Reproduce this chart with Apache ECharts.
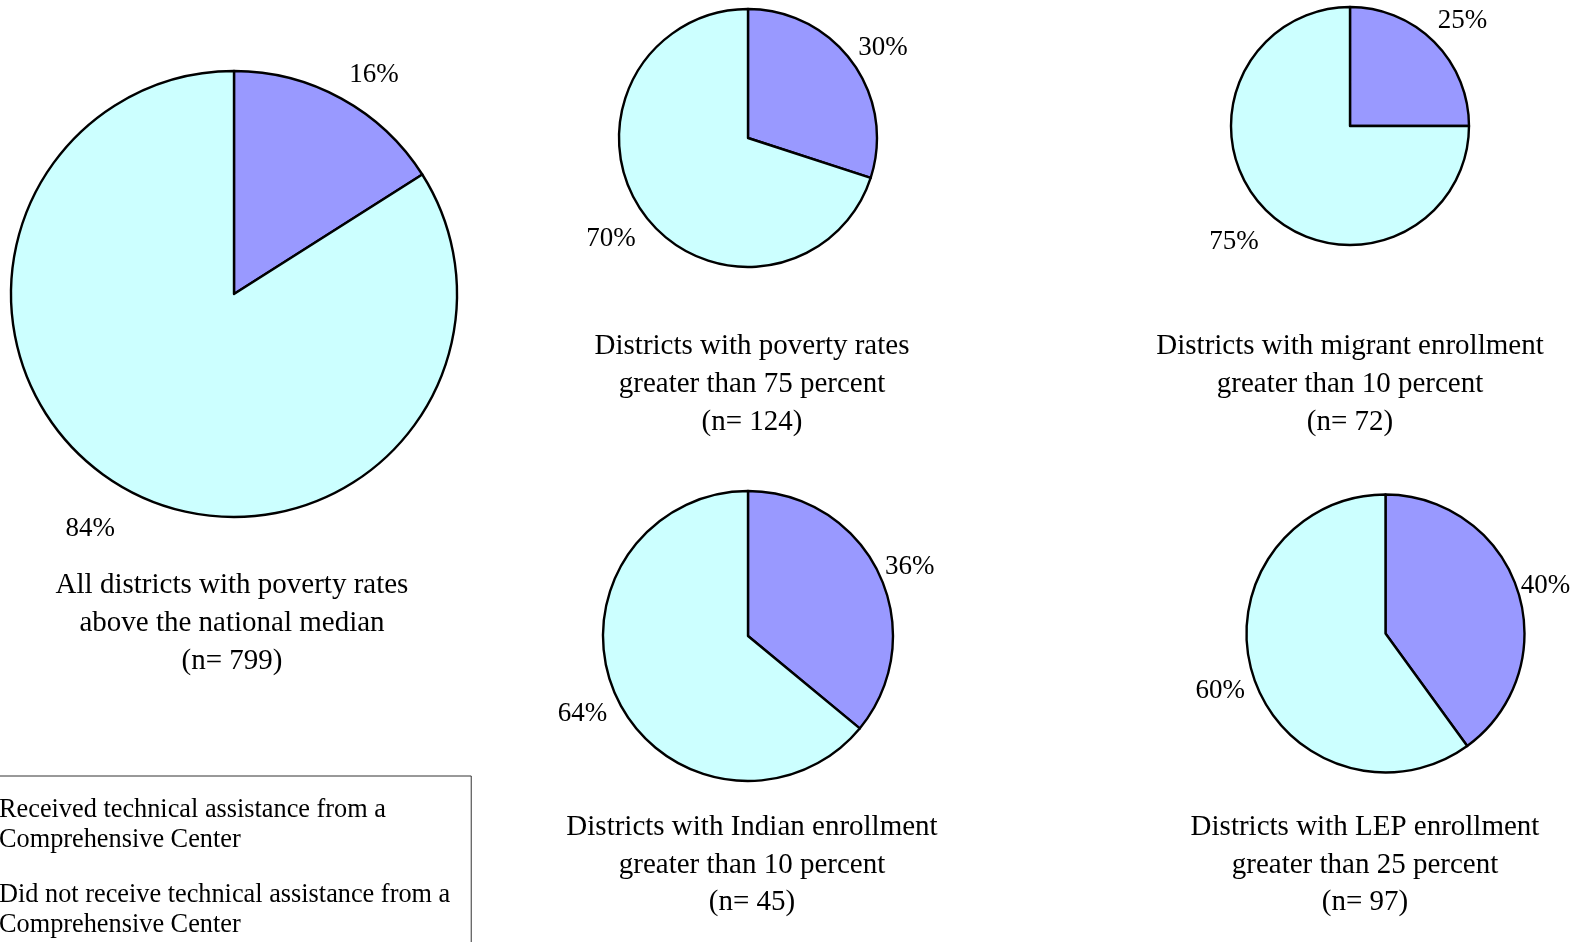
<!DOCTYPE html>
<html>
<head>
<meta charset="utf-8">
<script src="https://cdn.jsdelivr.net/npm/echarts@6/dist/echarts.min.js"></script>
<style>
html,body{margin:0;padding:0;background:#fff;}
#chart{width:1578px;height:942px;}
</style>
</head>
<body>
<div id="chart"></div>
<script>
// ---- data ----
const categories = [
  'Received technical assistance from a\nComprehensive Center',
  'Did not receive technical assistance from a\nComprehensive Center'
];
const groupTitles = [
  'All districts with poverty rates\nabove the national median',
  'Districts with poverty rates\ngreater than 75 percent',
  'Districts with migrant enrollment\ngreater than 10 percent',
  'Districts with Indian enrollment\ngreater than 10 percent',
  'Districts with LEP enrollment\ngreater than 25 percent'
];
const sampleSizes = [799, 124, 72, 45, 97];
const receivedPct = [16, 30, 25, 36, 40];
const notReceivedPct = [84, 70, 75, 64, 60];

// ---- layout (positions/sizes) ----
// labA/labB: label distance beyond the rim; rotA/rotB: small angular nudge (deg) of the label ring
const pieLayout = [
  {cx: 234, cy: 294, r: 223, labA: 34, labB: 49, rotA: 3.8, rotB: 2.7, tx: 232, ty: 567},
  {cx: 748, cy: 138, r: 129, labA: 30, labB: 38, rotA: 2.4, rotB: -0.3, tx: 752, ty: 328},
  {cx: 1350, cy: 126, r: 119, labA: 32, labB: 42, rotA: 1.9, rotB: 0, tx: 1350, ty: 328},
  {cx: 748, cy: 636, r: 145, labA: 28, labB: 35, rotA: 2.0, rotB: 0, tx: 752, ty: 808.5},
  {cx: 1385.5, cy: 633.5, r: 139, labA: 25, labB: 33, rotA: 1.4, rotB: -1.3, tx: 1365, ty: 808.5}
];
const COLORS = ['#9999FF', '#CCFFFF'];
const FONT = '"Liberation Serif", "Times New Roman", serif';

function labelRing(L, data, which, dist, rot) {
  return {
    type: 'pie',
    center: [L.cx, L.cy],
    radius: [L.r + dist - 10, L.r + dist + 10],
    startAngle: 90 - rot,
    clockwise: true,
    silent: true,
    animation: false,
    emphasis: {disabled: true},
    itemStyle: {color: 'rgba(0,0,0,0)', borderWidth: 0},
    labelLine: {show: false},
    label: {
      show: true, position: 'inside', formatter: '{d}%',
      color: '#000', fontFamily: FONT, fontSize: 27
    },
    data: data.map((d, k) => ({
      name: d.name, value: d.value,
      label: {show: k === which}
    }))
  };
}

const series = [];
const titles = [];
pieLayout.forEach((L, i) => {
  const data = [
    {name: categories[0], value: receivedPct[i]},
    {name: categories[1], value: notReceivedPct[i]}
  ];
  series.push({
    type: 'pie',
    center: [L.cx, L.cy],
    radius: [0, L.r],
    startAngle: 90,
    clockwise: true,
    silent: true,
    animation: false,
    label: {show: false},
    labelLine: {show: false},
    emphasis: {disabled: true},
    itemStyle: {borderColor: '#000', borderWidth: 2.4},
    data: data
  });
  series.push(labelRing(L, data, 0, L.labA, L.rotA));
  series.push(labelRing(L, data, 1, L.labB, L.rotB));
  titles.push({
    text: groupTitles[i] + '\n(n= ' + sampleSizes[i] + ')',
    left: L.tx, top: L.ty, textAlign: 'center', padding: 0,
    textStyle: {fontFamily: FONT, fontSize: 29, fontWeight: 'normal', color: '#000', lineHeight: 37.7}
  });
});

const chart = echarts.init(document.getElementById('chart'), null, {renderer: 'canvas'});
chart.setOption({
  backgroundColor: '#fff',
  color: COLORS,
  animation: false,
  title: titles,
  legend: {
    data: categories,
    orient: 'vertical',
    left: -42,
    top: 776,
    height: 200,
    padding: [19, 21, 20, 10],
    itemWidth: 25,
    itemHeight: 25,
    itemGap: 25,
    icon: 'rect',
    selectedMode: false,
    borderColor: '#333',
    borderWidth: 1,
    textStyle: {fontFamily: FONT, fontSize: 26.3, color: '#000', lineHeight: 30}
  },
  series: series
});
</script>
</body>
</html>
